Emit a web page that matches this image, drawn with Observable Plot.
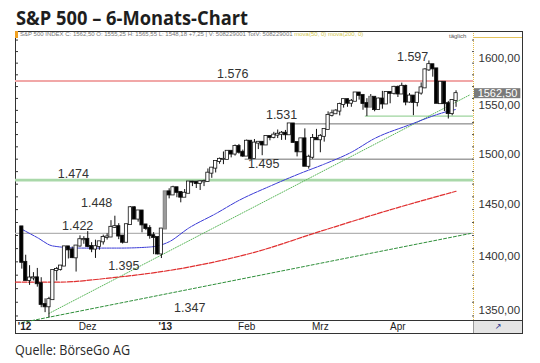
<!DOCTYPE html>
<html><head><meta charset="utf-8">
<script src="https://cdn.jsdelivr.net/npm/d3@7"></script>
<script src="https://cdn.jsdelivr.net/npm/@observablehq/plot@0.6"></script>
<style>
html,body{margin:0;padding:0;background:#fff;}
#wrap{position:relative;width:540px;height:363px;overflow:hidden;background:#fff;}
#title{position:absolute;left:16px;top:9px;font-family:"Open Sans",sans-serif;font-weight:700;font-size:19px;line-height:1;color:#1e1e1e;white-space:nowrap;transform-origin:0 0;}
#caption{position:absolute;left:15px;top:343px;font-family:"Open Sans",sans-serif;font-size:14px;line-height:1;color:#2a2a2a;white-space:nowrap;transform-origin:0 0;}
#box{position:absolute;left:15px;top:31px;width:508px;height:303px;box-sizing:border-box;border:1px solid #333;}
#band{position:absolute;left:15px;top:320px;width:508px;height:1px;background:#333;}
#corner{position:absolute;left:473px;top:321px;width:49px;height:12px;background:#e4e4e4;border-left:1px solid #999;box-sizing:border-box;text-align:center;font:8px "DejaVu Sans";color:#1c2a8c;line-height:12px;}
#ytop{position:absolute;left:473px;top:37px;width:49px;height:1px;background:#e5c35a;}
#mark{position:absolute;left:15px;top:31px;width:3px;height:7px;background:#f0a020;}
#hdr{position:absolute;left:20px;top:31px;font-family:"Liberation Sans",Arial,sans-serif;font-size:6px;line-height:7px;color:#777;white-space:nowrap;}
#hdr .m{color:#d2c850;}
#tag{position:absolute;left:449px;top:33px;font-family:"Liberation Sans",Arial,sans-serif;font-size:6px;line-height:7px;color:#555;}
#chart{position:absolute;left:0;top:30px;}
</style></head><body>
<div id="wrap">
  <div id="title">S&amp;P 500 – 6-Monats-Chart</div>
  <div id="box"></div>
  <div id="band"></div>
  <div id="corner">&#x2197;</div>
  <div id="chart"></div>
  <div id="ytop"></div>
  <div id="mark"></div>
  <div id="hdr">S&amp;P 500 INDEX C: 1562,50 O: 1555,25 H: 1565,55 L: 1548,18 +7,25 | V: 508229001 TotV: 508229001 <span class="m">mova(50, 0) mova(200, 0)</span></div>
  <div id="tag">täglich</div>
  <div id="caption">Quelle: BörseGo AG</div>
</div>
<script>
// ---------- data ----------
const dates = ["2012-11-07","2012-11-08","2012-11-09","2012-11-12","2012-11-13","2012-11-14","2012-11-15","2012-11-16","2012-11-19","2012-11-20","2012-11-21","2012-11-23","2012-11-26","2012-11-27","2012-11-28","2012-11-29","2012-11-30",
"2012-12-03","2012-12-04","2012-12-05","2012-12-06","2012-12-07","2012-12-10","2012-12-11","2012-12-12","2012-12-13","2012-12-14","2012-12-17","2012-12-18","2012-12-19","2012-12-20","2012-12-21","2012-12-24","2012-12-26","2012-12-27","2012-12-28","2012-12-31",
"2013-01-02","2013-01-03","2013-01-04","2013-01-07","2013-01-08","2013-01-09","2013-01-10","2013-01-11","2013-01-14","2013-01-15","2013-01-16","2013-01-17","2013-01-18","2013-01-22","2013-01-23","2013-01-24","2013-01-25","2013-01-28","2013-01-29","2013-01-30","2013-01-31",
"2013-02-01","2013-02-04","2013-02-05","2013-02-06","2013-02-07","2013-02-08","2013-02-11","2013-02-12","2013-02-13","2013-02-14","2013-02-15","2013-02-19","2013-02-20","2013-02-21","2013-02-22","2013-02-25","2013-02-26","2013-02-27","2013-02-28",
"2013-03-01","2013-03-04","2013-03-05","2013-03-06","2013-03-07","2013-03-08","2013-03-11","2013-03-12","2013-03-13","2013-03-14","2013-03-15","2013-03-18","2013-03-19","2013-03-20","2013-03-21","2013-03-22","2013-03-25","2013-03-26","2013-03-27","2013-03-28",
"2013-04-01","2013-04-02","2013-04-03","2013-04-04","2013-04-05","2013-04-08","2013-04-09","2013-04-10","2013-04-11","2013-04-12","2013-04-15","2013-04-16","2013-04-17","2013-04-18","2013-04-19","2013-04-22"];

const open = [1428.27,1394.53,1377.55,1379.86,1380.03,1374.64,1355.41,1353.36,1359.88,1386.82,1387.79,1391.03,1409.15,1406.29,1398.77,1409.96,1415.95,
1416.34,1409.46,1407.05,1409.43,1413.95,1418.07,1418.55,1427.84,1428.48,1419.45,1413.54,1430.47,1446.79,1435.81,1443.67,1430.15,1426.66,1419.83,1418.10,1402.43,
1426.19,1462.42,1459.37,1466.47,1461.89,1457.15,1461.02,1472.12,1472.05,1470.67,1472.33,1472.63,1480.95,1485.98,1492.56,1494.81,1494.82,1502.96,1500.18,1507.84,1501.96,
1498.11,1513.17,1495.71,1511.29,1512.12,1509.39,1517.93,1517.01,1519.43,1520.33,1521.38,1519.79,1530.94,1511.95,1502.42,1515.60,1487.85,1496.94,1515.99,
1514.68,1518.20,1525.20,1539.79,1541.46,1544.26,1551.15,1556.22,1552.48,1554.52,1563.21,1560.70,1552.10,1548.34,1558.71,1545.90,1556.89,1551.69,1563.75,1562.86,
1569.18,1562.17,1570.25,1553.69,1559.98,1553.26,1563.11,1568.61,1587.73,1593.30,1588.84,1552.01,1574.57,1552.03,1541.61,1555.25];

const high = [1428.27,1401.23,1391.39,1384.87,1388.81,1380.13,1360.62,1362.03,1386.89,1389.77,1391.25,1409.16,1409.15,1409.01,1410.31,1419.70,1418.86,
1423.73,1413.14,1415.56,1413.95,1420.34,1421.64,1434.27,1438.59,1431.36,1419.45,1430.67,1448.00,1447.75,1443.70,1443.67,1430.15,1429.42,1422.80,1418.10,1426.74,
1462.43,1465.47,1467.94,1466.47,1461.89,1464.73,1472.30,1472.75,1472.05,1473.31,1473.96,1485.16,1485.98,1492.56,1496.13,1502.27,1503.26,1503.23,1509.35,1509.94,1504.19,
1514.41,1513.17,1514.96,1512.53,1512.90,1518.31,1518.31,1522.29,1524.69,1523.14,1524.24,1530.94,1530.94,1511.95,1515.64,1525.84,1498.99,1520.08,1525.34,
1519.99,1525.27,1543.47,1545.25,1545.78,1552.48,1556.27,1556.77,1556.39,1563.32,1563.62,1560.70,1557.25,1561.56,1558.71,1557.74,1564.91,1563.95,1564.07,1570.28,
1570.57,1573.66,1571.47,1562.60,1559.98,1563.07,1573.89,1589.07,1597.35,1593.30,1588.84,1575.35,1574.57,1554.38,1555.89,1565.55];

const low = [1388.14,1377.51,1373.03,1377.19,1371.39,1352.50,1348.05,1343.35,1359.88,1377.04,1386.39,1391.03,1397.68,1398.03,1385.43,1409.04,1411.63,
1408.46,1403.65,1398.23,1405.93,1410.90,1415.64,1418.55,1426.76,1416.00,1411.88,1413.54,1430.47,1435.80,1432.82,1422.58,1424.66,1416.43,1401.80,1401.58,1398.11,
1426.19,1455.53,1458.99,1456.62,1451.64,1457.15,1461.02,1467.58,1465.69,1463.76,1467.60,1472.63,1475.81,1481.16,1489.90,1489.46,1494.82,1496.33,1498.09,1500.11,1496.76,
1498.11,1495.02,1495.71,1504.71,1498.49,1509.39,1513.61,1515.61,1515.93,1514.02,1514.14,1519.79,1511.41,1497.29,1502.42,1487.85,1485.01,1494.88,1514.46,
1501.48,1512.29,1525.20,1538.11,1541.46,1539.28,1547.36,1548.24,1548.25,1554.52,1555.74,1545.13,1538.57,1548.34,1543.55,1545.90,1546.22,1551.69,1551.90,1561.08,
1558.47,1562.17,1549.80,1552.52,1539.50,1548.63,1560.92,1568.61,1586.17,1579.97,1552.28,1552.01,1543.69,1536.03,1539.40,1548.19];

const close = [1394.53,1377.51,1379.85,1380.03,1374.53,1355.49,1353.33,1359.88,1386.89,1387.81,1391.03,1409.15,1406.29,1398.94,1409.93,1415.95,1416.18,
1409.46,1407.05,1409.28,1413.94,1418.07,1418.55,1427.84,1428.48,1419.45,1413.58,1430.36,1446.79,1435.81,1443.69,1430.15,1426.66,1419.83,1418.10,1402.43,1426.19,
1462.42,1459.37,1466.47,1461.89,1457.15,1461.02,1472.12,1472.05,1470.68,1472.34,1472.63,1480.94,1485.98,1492.56,1494.81,1494.82,1502.96,1500.18,1507.84,1501.96,1498.11,
1513.17,1495.71,1511.29,1512.12,1509.39,1517.93,1517.01,1519.43,1520.33,1521.38,1519.79,1530.94,1511.95,1502.42,1515.60,1487.85,1496.94,1515.99,1514.68,
1518.20,1525.20,1539.79,1541.46,1544.26,1551.18,1556.22,1552.48,1554.52,1563.23,1560.70,1552.10,1548.34,1558.71,1545.80,1556.89,1551.69,1563.77,1562.85,1569.19,
1562.17,1570.25,1553.69,1559.98,1553.28,1563.07,1568.61,1587.73,1593.37,1588.85,1552.36,1574.57,1552.01,1541.61,1555.25,1562.50];

const grayDates = ["2013-01-02", "2013-03-20"];

// moving averages
const ma50Dates  = ["2012-11-07","2012-11-13","2012-11-19","2012-11-29","2012-12-13","2012-12-26","2013-01-03","2013-01-10","2013-01-22","2013-01-30","2013-02-11","2013-02-22","2013-03-04","2013-03-13","2013-03-21","2013-04-04","2013-04-17","2013-04-22"];
const ma50Values = [1426,1418,1410,1408,1408,1409,1414,1427,1441,1454,1468,1481,1490,1502,1516,1530,1543,1546];
const ma200Dates  = ["2012-11-07","2012-11-20","2012-12-11","2013-01-10","2013-02-05","2013-03-01","2013-04-01","2013-04-22"];
const ma200Values = [1376,1376,1380,1390,1404,1424,1447,1463];

// trend lines (two anchor points each)
const trendUpDates = ["2012-11-16","2013-04-18"];
const trendUpValues = [1347.3,1549.5];
const trendLowDates = ["2012-11-07","2013-04-22"];
const trendLowValues = [1339.0,1419.2];

// horizontal levels
const levelValues = [1576, 1531, 1539, 1495, 1474, 1422];
const levelStart  = [null, "2013-02-19", "2013-03-19", "2013-02-01", null, null];

// annotation labels
const labelText  = ["1.597","1.576","1.531","1.495","1.474","1.448","1.422","1.395","1.347"];
const labelPos   = [100.8, 54.4, 67.0, 62.4, 13.3, 19.3, 14.4, 26.3, 43.3];
const labelPrice = [1596.8, 1578.6, 1536.5, 1486.6, 1475.7, 1447.1, 1424.8, 1386.9, 1348.7];

// axis ticks
const yTicks = [1350, 1400, 1450, 1500, 1550, 1600];
const monthLabels = ["Dez","Feb","Mrz","Apr"];
const monthDates  = ["2012-12-03","2013-02-01","2013-03-01","2013-04-01"];
const yearLabels  = ["'12","'13"];
const yearDates   = ["2012-11-07","2013-01-02"];

// ---------- chart ----------
const I = d => dates.indexOf(d);
const fmtY = d => d3.format(".2f")(d).replace(".", ",");
const candles = dates.map((d, i) => ({i, o: open[i], h: high[i], l: low[i], c: close[i], gray: grayDates.includes(d)}));
const X0 = -1.63, X1 = 116.5;
const lastClose = close[close.length - 1];

function extend(ds, vs) {
  const a = I(ds[0]), b = I(ds[1]);
  const k = (Math.log(vs[1]) - Math.log(vs[0])) / (b - a);
  const end = X1 - 0.8;
  return [{x: a, y: vs[0]}, {x: end, y: Math.exp(Math.log(vs[0]) + k * (end - a))}];
}
function maPoints(ds, vs, fromEdge) {
  const pts = ds.map((d, k) => ({x: I(d), y: vs[k]}));
  if (fromEdge) pts.unshift({x: X0, y: vs[0]});
  return pts;
}

const levelStyles = [
  {stroke: "#f1a7a7", strokeWidth: 2},
  {stroke: "#707070", strokeWidth: 1},
  {stroke: "#9ed49e", strokeWidth: 1.3},
  {stroke: "#707070", strokeWidth: 1},
  {stroke: "#a9d8a9", strokeWidth: 2.6},
  {stroke: "#b3b3b3", strokeWidth: 1.2}
];
const levelMarks = levelValues.map((v, k) =>
  Plot.ruleY([v], {x1: levelStart[k] ? I(levelStart[k]) - 0.4 : X0, x2: X1, ...levelStyles[k]}));

const minorTicks = d3.range(1345, 1625, 12.5);

const chart = Plot.plot({
  width: 540, height: 310,
  marginLeft: 15, marginRight: 67, marginTop: 3, marginBottom: 20,
  x: {type: "linear", domain: [X0, X1], axis: null},
  y: {type: "log", domain: [1340.9, 1627.2]},
  color: {type: "identity"},
  style: {fontFamily: "'Liberation Sans', Arial, sans-serif", background: "transparent", overflow: "visible"},
  marks: [
    ...levelMarks,
    Plot.line(extend(trendLowDates, trendLowValues), {x: "x", y: "y", stroke: "#2f8f3a", strokeWidth: 1, strokeDasharray: "3,2"}),
    Plot.line(extend(trendUpDates, trendUpValues), {x: "x", y: "y", stroke: "#5cb85c", strokeWidth: 1, strokeDasharray: "1,1.5"}),
    Plot.line(maPoints(ma200Dates, ma200Values, true), {x: "x", y: "y", curve: "monotone-x", stroke: "#e03030", strokeWidth: 1.2, strokeDasharray: "5,1.5"}),
    Plot.line(maPoints(ma50Dates, ma50Values, false), {x: "x", y: "y", curve: "monotone-x", stroke: "#3a3ad6", strokeWidth: 1, strokeDasharray: "4,1"}),
    Plot.ruleX(candles, {x: "i", y1: "l", y2: "h", stroke: "#111", strokeWidth: 1}),
    Plot.rect(candles, {
      x1: d => d.i - 0.42, x2: d => d.i + 0.42,
      y1: d => Math.min(d.o, d.c), y2: d => Math.max(d.o, d.c),
      insetTop: -0.5, insetBottom: -0.5,
      fill: d => d.gray ? "#9a9a9a" : (d.c >= d.o ? "#ffffff" : "#000000"),
      stroke: d => d.gray ? "#777" : "#111", strokeWidth: 0.8
    }),
    Plot.text(labelText, {x: (d, k) => labelPos[k], y: (d, k) => labelPrice[k], text: d => d, fontSize: 12.5, fill: "#333", lineAnchor: "bottom"}),
    Plot.ruleX([X1], {stroke: "#e0b848", strokeDasharray: "1,1"}),
    Plot.axisY({anchor: "left", ticks: minorTicks, tickSize: -3, tickFormat: () => "", stroke: "#333"}),
    Plot.axisY({anchor: "right", ticks: minorTicks, tickSize: -2, tickFormat: () => "", stroke: "#555"}),
    Plot.axisY({anchor: "right", ticks: yTicks, tickSize: 0, tickPadding: 5, tickFormat: fmtY, fontSize: 11.5, fill: "#333"}),
    Plot.rect([lastClose], {x1: X1 + 0.25, x2: X1 + 12.2, y1: d => d, y2: d => d, insetTop: -5, insetBottom: -5, fill: "#7a7a7a"}),
    Plot.text([lastClose], {x: X1, y: d => d, text: fmtY, dx: 24, fontSize: 11, fill: "#fff", textAnchor: "middle"}),
    Plot.text(monthLabels, {x: (d, k) => I(monthDates[k]), frameAnchor: "bottom", dy: 6.5, lineAnchor: "middle", text: d => d, fontSize: 10, fill: "#222"}),
    Plot.text(yearLabels.slice(1), {x: (d, k) => I(yearDates[k + 1]), frameAnchor: "bottom", dy: 6.5, lineAnchor: "middle", text: d => d, fontSize: 10, fontWeight: "bold", fill: "#222"}),
    Plot.text(yearLabels.slice(0, 1), {x: (d, k) => I(yearDates[k]), frameAnchor: "bottom", dy: 6.5, dx: -4, lineAnchor: "middle", textAnchor: "start", text: d => d, fontSize: 10, fontWeight: "bold", fill: "#222"})
  ]
});
document.getElementById("chart").appendChild(chart);

function fit(id, w) {
  const el = document.getElementById(id);
  const r = el.getBoundingClientRect();
  el.style.transform = `scaleX(${w / r.width})`;
}
fit("title", 232);
fit("caption", 115);
</script>
</body></html>
